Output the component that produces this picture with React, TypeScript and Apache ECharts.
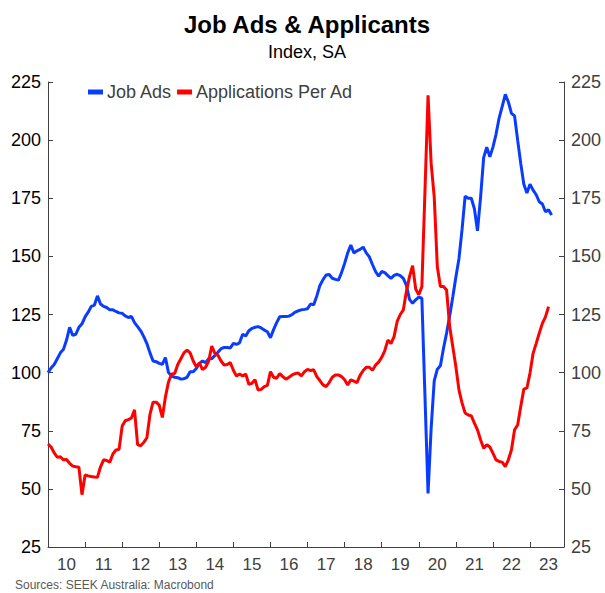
import React, { useEffect, useRef } from "react";
import * as echarts from "echarts";

const YEARS = ["10", "11", "12", "13", "14", "15", "16", "17", "18", "19", "20", "21", "22", "23"];

// Monthly from Jan 2010
const JOB_ADS = [
  100, 102, 103.5, 106, 108.5, 110, 114, 119.5, 116, 116.5, 119.5, 121,
  124, 126, 128.5, 129, 133, 129.5, 128.5, 128, 127, 127, 126.3, 125.7,
  125.5, 124.4, 123.7, 124.2, 121.5, 119.8, 118, 115.5, 112.5, 108.5, 105, 104.7,
  104, 103.6, 106.5, 100, 98.5, 98, 97.8, 97.2, 97.4, 98, 100.4, 100.4,
  101.8, 104, 105, 104.3, 106, 106, 107.3, 108.8, 110.3, 110.8, 110.8, 110.6,
  112.6, 112.2, 112.8, 116.5, 115.8, 118, 119, 119.5, 119.8, 119.2, 118.3, 117.6,
  115, 118.5, 121.5, 124, 124.1, 124.1, 124.3, 125, 126, 126.6, 127, 127.2,
  127.5, 129.5, 129.2, 133, 137.5, 140, 142, 142.2, 140.6, 140.1, 139.8, 143,
  147, 151.5, 154.9, 151.5, 152.4, 153, 154, 151.5, 149.8, 146.5, 143.5, 141.5,
  143.5, 143, 141.7, 140.5, 141.8, 142.3, 141.7, 140.5, 137.5, 131.5, 129.8, 131.3,
  132.5, 132, 90, 48, 76, 96.5, 101.5, 103, 110.5, 117, 124.4, 132.5,
  141, 149, 161.5, 175.9, 175, 175, 170.5, 161, 175.5, 192.5, 197, 192.8,
  197, 202.5, 209.5, 214.5, 219.7, 216.4, 211.5, 210.4, 200, 190, 181, 177.3,
  181, 178.5, 176.5, 173.5, 172.5, 169.2, 170, 167.8
];

const APPS_PER_AD = [
  69.3, 68, 65.5, 63.6, 63.8, 62.5, 62.6, 61, 59.8, 59.5, 59.3, 47.5,
  56, 55.6, 55.3, 55.1, 55, 59.5, 62.5, 62.2, 61.5, 65, 66.7, 67,
  77, 79.3, 79.8, 80.5, 84, 69, 68.5, 70, 72, 82, 87.3, 87.3,
  86, 80.7, 89.5, 96, 99.4, 99.6, 103.5, 106, 108.5, 109.7, 108.5, 105,
  102.5, 104.2, 101.3, 102.3, 105, 111.4, 108.3, 107.5, 105, 103.3, 103.5, 104.3,
  101, 98.5, 99.4, 98.5, 99.4, 95, 95.4, 97, 92.5, 92.8, 94, 94.5,
  100.4, 98, 97.6, 99.6, 98.3, 97.2, 98, 99, 99.6, 99.8, 98.6, 100.4,
  101.4, 100.9, 101.2, 98.3, 96.6, 94.7, 94, 95.7, 98, 99, 99, 98.3,
  96.9, 94.7, 96.9, 96.3, 95.7, 98.8, 100.9, 102.3, 102.3, 101, 103.2, 104.5,
  106.6, 109.5, 114, 112.5, 115.5, 122, 125, 127, 135, 141.3, 146, 136,
  133.5, 137, 178, 219.3, 190, 175.6, 145.5, 137, 137, 135.5, 119.8, 111.2,
  102.6, 92.6, 87, 82.6, 81.8, 81.4, 78.3, 75.4, 71.1, 67.5, 69, 68,
  65.4, 62.5, 61.8, 61.5, 59.6, 62.5, 66.8, 75.4, 77.5, 85.4, 92.9, 93.4,
  99.8, 108.3, 112.6, 117, 121.2, 124, 128.4
];

const SERIES_NAMES = ["Job Ads", "Applications Per Ad"];
const COLORS = ["#0a3cff", "#ff0000"];

const months: string[] = [];
YEARS.forEach((y) => {
  for (let m = 1; m <= 12; m++) months.push(`20${y}-${m < 10 ? "0" + m : m}`);
});

const FONT = "'Liberation Sans', Arial, Helvetica, sans-serif";

export default function App() {
  const ref = useRef<HTMLDivElement>(null);
  useEffect(() => {
    if (!ref.current) return;
    const chart = echarts.init(ref.current, null, { renderer: "svg" });
    const yAxisBase = (pos: "left" | "right", color: string) => ({
      type: "value",
      position: pos,
      min: 25,
      max: 225,
      interval: 25,
      splitLine: { show: false },
      axisLine: { show: true, lineStyle: { color: "#404040", width: 1 } },
      axisTick: { show: true, inside: true, length: 5, lineStyle: { color: "#404040" } },
      axisLabel: { color, fontSize: 18, fontFamily: FONT, margin: 7 },
    });
    chart.setOption({
      animation: false,
      textStyle: { fontFamily: FONT },
      grid: { left: 48, right: 41, top: 82, bottom: 46, containLabel: false },
      legend: {
        data: SERIES_NAMES,
        left: 83,
        top: 78,
        icon: "rect",
        itemWidth: 15,
        itemHeight: 5,
        itemGap: 5,
        textStyle: { color: "#404040", fontSize: 18, fontFamily: FONT, padding: [0, 0, 0, -1] },
      },
      xAxis: {
        type: "category",
        data: months,
        boundaryGap: false,
        axisLine: { show: true, lineStyle: { color: "#404040" } },
        axisTick: {
          show: true,
          inside: true,
          length: 5,
          interval: (i: number) => i % 12 === 0 && i > 0,
          lineStyle: { color: "#404040" },
        },
        axisLabel: {
          interval: (i: number) => i % 12 === 6,
          formatter: (v: string) => v.slice(2, 4),
          color: "#404040",
          fontSize: 17,
          fontFamily: FONT,
          margin: 9,
        },
      },
      yAxis: [yAxisBase("left", "#000000"), yAxisBase("right", "#404040")],
      series: [
        {
          name: SERIES_NAMES[0],
          type: "line",
          data: JOB_ADS,
          yAxisIndex: 0,
          symbol: "none",
          color: COLORS[0],
          lineStyle: { width: 3, color: COLORS[0] },
        },
        {
          name: SERIES_NAMES[1],
          type: "line",
          data: APPS_PER_AD,
          yAxisIndex: 1,
          symbol: "none",
          color: COLORS[1],
          lineStyle: { width: 3, color: COLORS[1] },
        },
      ],
      graphic: [
        {
          type: "text",
          x: 307,
          y: 24,
          style: {
            text: "Job Ads & Applicants",
            fontSize: 24,
            fontWeight: "bold",
            fontFamily: FONT,
            fill: "#000",
            align: "center",
            verticalAlign: "middle",
          },
        },
        {
          type: "text",
          x: 307,
          y: 52,
          style: {
            text: "Index, SA",
            fontSize: 18,
            fontFamily: FONT,
            fill: "#000",
            align: "center",
            verticalAlign: "middle",
          },
        },
        {
          type: "text",
          x: 15,
          y: 585,
          style: {
            text: "Sources: SEEK Australia: Macrobond",
            fontSize: 12,
            fontFamily: FONT,
            fill: "#595959",
            align: "left",
            verticalAlign: "middle",
          },
        },
      ],
    });
    return () => chart.dispose();
  }, []);
  return (
    <div
      ref={ref}
      style={{ position: "fixed", left: 0, top: 0, width: 605, height: 593, background: "#fff" }}
    />
  );
}
